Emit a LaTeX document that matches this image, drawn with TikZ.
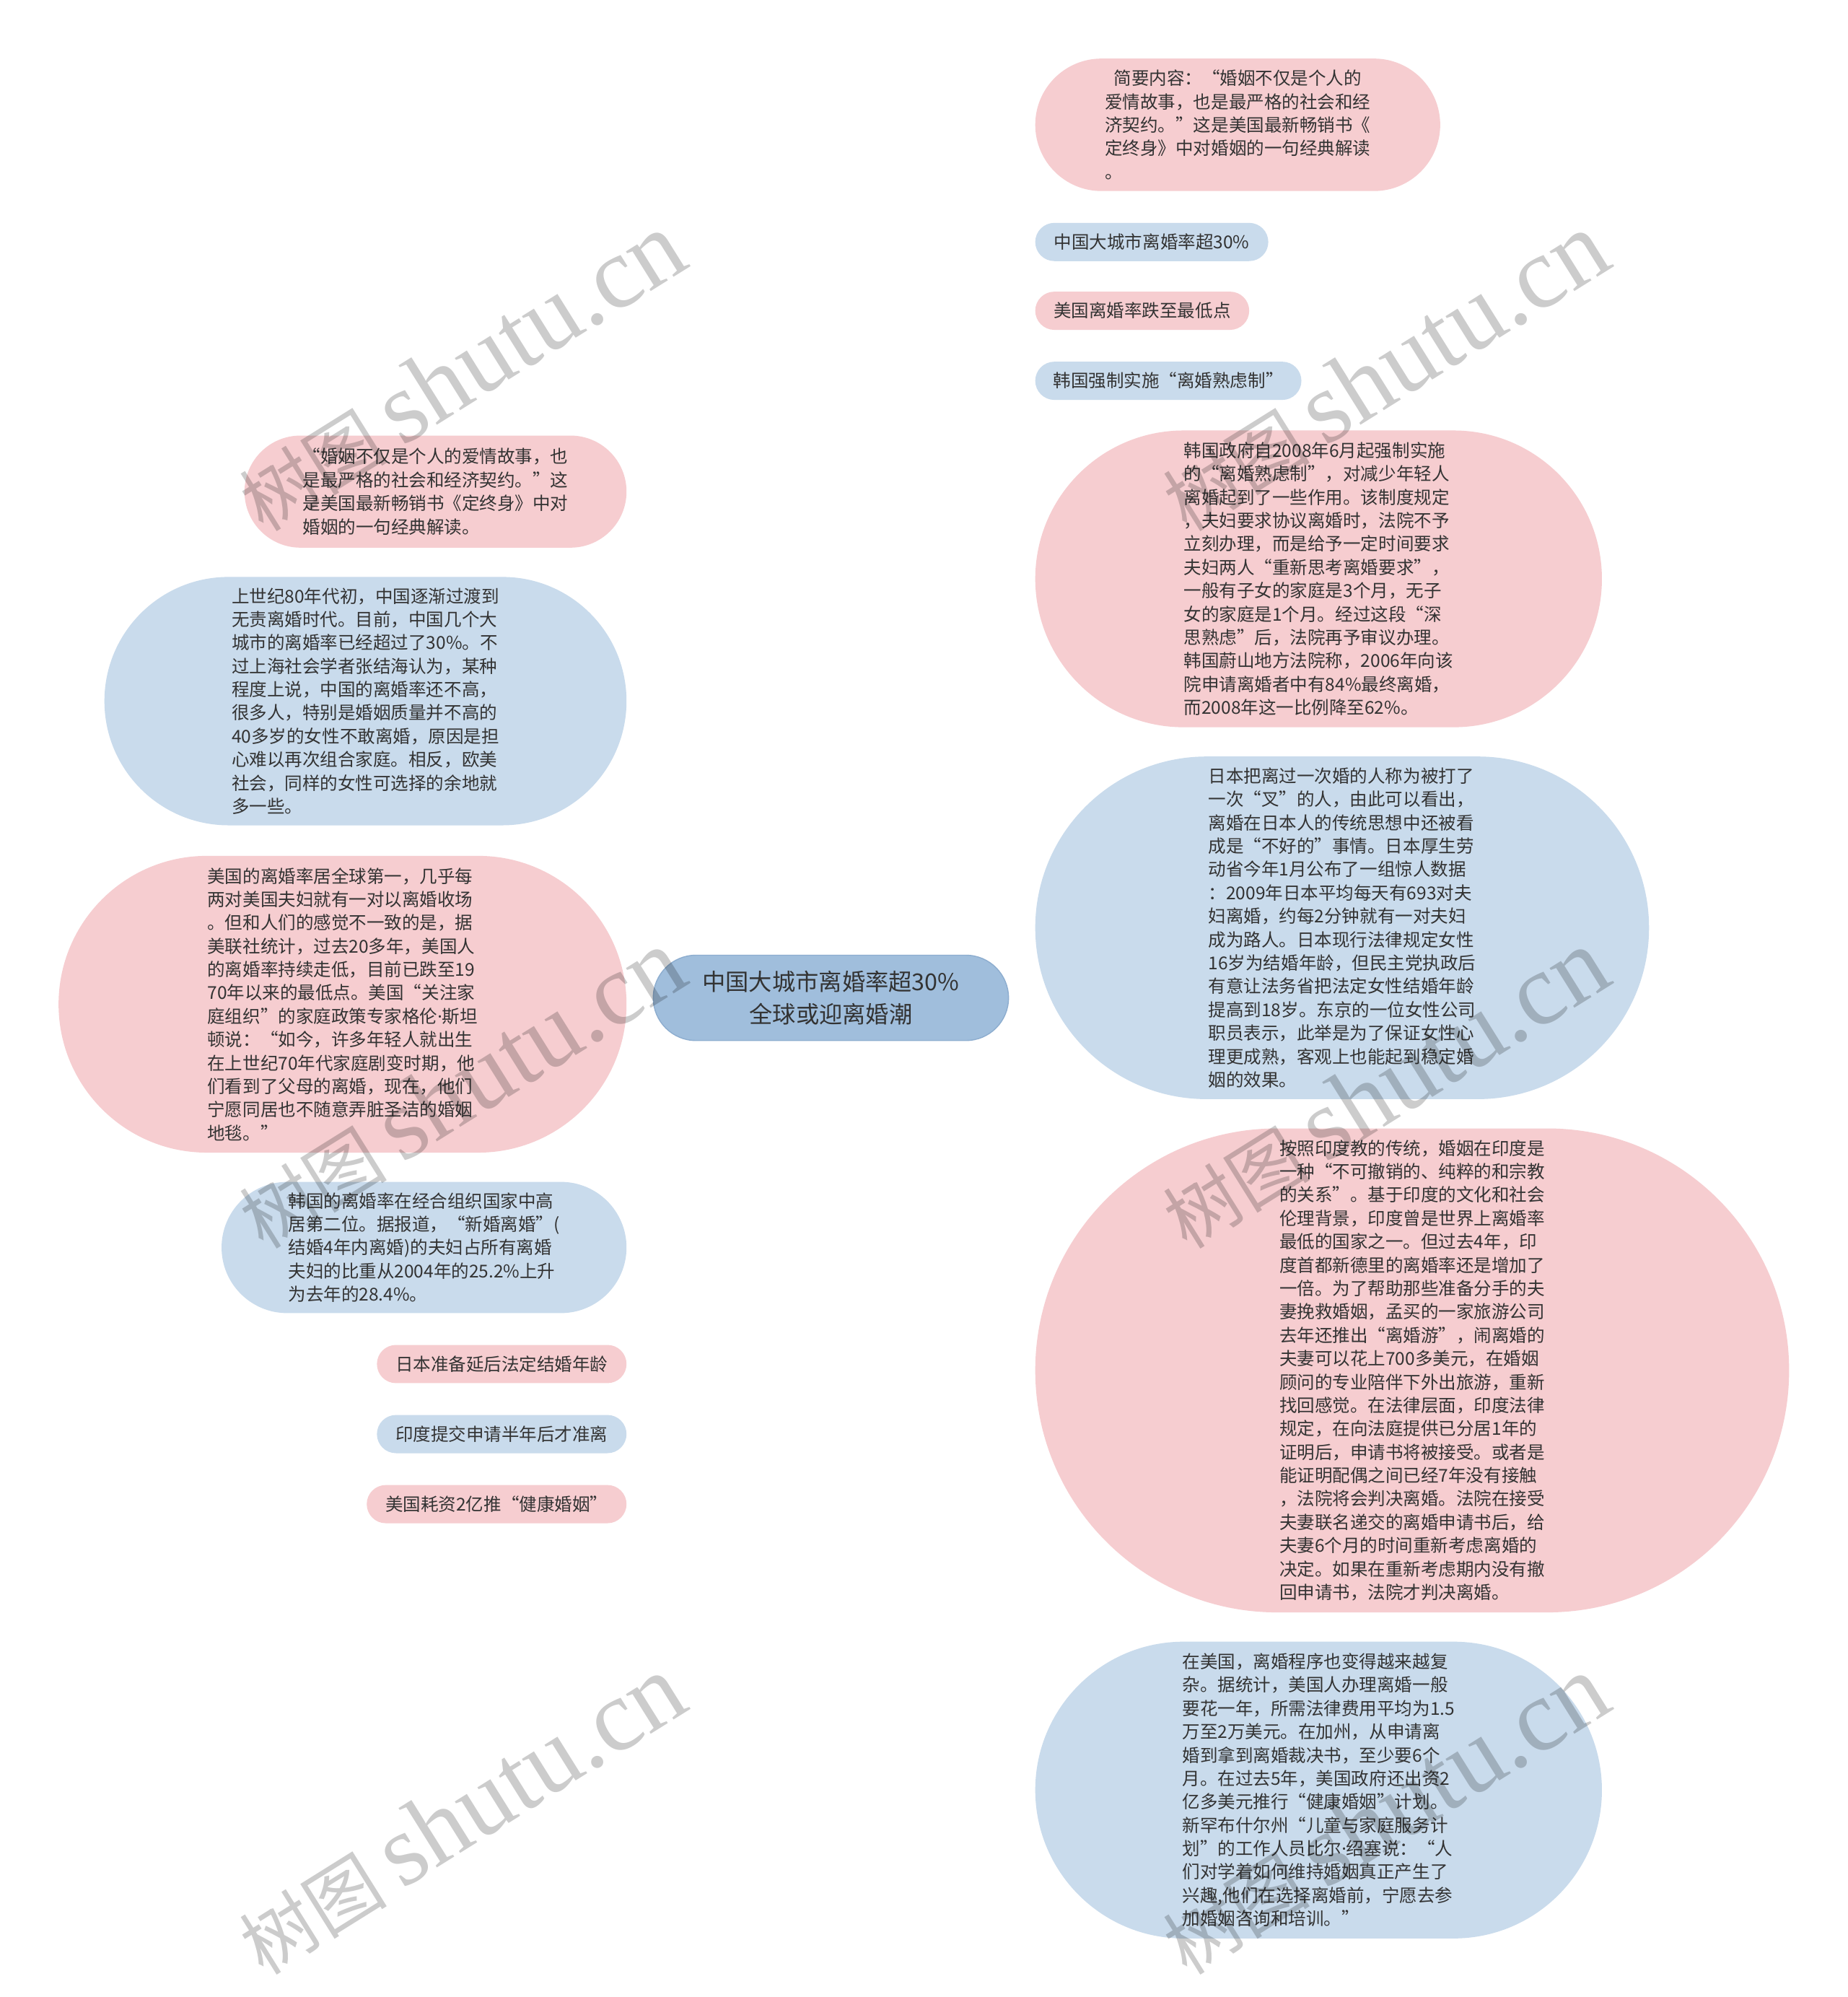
\documentclass[tikz,border=0pt]{standalone}
\usepackage{fontspec}
\setmainfont{Noto Sans CJK SC}
\newfontfamily\wmlatin{Liberation Serif}
\newfontfamily\dotfont{Noto Sans}
\newcommand{\mdot}{{\dotfont ·}}
\usetikzlibrary{calc,backgrounds}
\definecolor{pinkfill}{HTML}{F6CDD0}
\definecolor{bluefill}{HTML}{C9DBEC}
\definecolor{rootfill}{HTML}{A0BEDC}
\definecolor{rootedge}{HTML}{8DADCF}
\definecolor{pinkline}{HTML}{EFB8BE}
\definecolor{blueline}{HTML}{B5CDE4}
\definecolor{txt}{HTML}{333333}
\tikzset{
  box/.style={rectangle, inner sep=0pt, align=left, text=txt,
    font=\fontsize{13.9pt}{18.35pt}\selectfont},
  pinkbox/.style={box, fill=pinkfill},
  bluebox/.style={box, fill=bluefill},
  sz/.style 2 args={minimum width=#1pt, minimum height=#2pt, rounded corners={#2*0.5pt}},
  rootbox/.style={rectangle, inner sep=0pt, align=center, text=txt, fill=rootfill,
    draw=rootedge, line width=0.8pt, font=\fontsize{18.3pt}{25pt}\selectfont},
  pl/.style={draw=pinkline, line width=1.1pt},
  bl/.style={draw=blueline, line width=1.1pt},
  rc/.style={to path={.. controls ($(\tikztostart)!0.6667!(\tikztostart|-\tikztotarget)$)
      and ($(\tikztotarget)!0.6667!(\tikztostart|-\tikztotarget)$) .. (\tikztotarget)}},
  wm/.style={inner sep=0pt, text=black, text opacity=0.2, rotate=32}
}
\newcommand{\wmtext}{{\fontsize{58pt}{58pt}\selectfont 树图}\hspace{12pt}{\wmlatin\fontsize{80pt}{80pt}\selectfont shutu.cn}}
\begin{document}
\begin{tikzpicture}[x=1pt,y=-1pt]
\useasboundingbox (0,0) rectangle (1451,1568);
\fill[white] (0,0) rectangle (1451,1568);

% root
\node[rootbox, sz={279}{67}] (root) at (652.5,783.5) {中国大城市离婚率超30\%\\全球或迎离婚潮};

% right side
\node[pinkbox, sz={318}{104}] (r1) at (972,98) {\hspace{0.5em}简要内容：“婚姻不仅是个人的\\爱情故事，也是最严格的社会和经\\济契约。”这是美国最新畅销书《\\定终身》中对婚姻的一句经典解读\\。};
\node[bluebox, sz={183}{30}] (r2) at (904.5,190) {中国大城市离婚率超30\%};
\node[pinkbox, sz={168}{30}] (r3) at (897,244) {美国离婚率跌至最低点};
\node[bluebox, sz={209}{30}] (r4) at (917.5,299) {韩国强制实施“离婚熟虑制”};
\node[pinkbox, sz={445}{233}] (r5) at (1035.5,454.5) {韩国政府自2008年6月起强制实施\\的“离婚熟虑制”，对减少年轻人\\离婚起到了一些作用。该制度规定\\，夫妇要求协议离婚时，法院不予\\立刻办理，而是给予一定时间要求\\夫妇两人“重新思考离婚要求”，\\一般有子女的家庭是3个月，无子\\女的家庭是1个月。经过这段“深\\思熟虑”后，法院再予审议办理。\\韩国蔚山地方法院称，2006年向该\\院申请离婚者中有84\%最终离婚，\\而2008年这一比例降至62\%。};
\node[bluebox, sz={482}{269}] (r6) at (1054,728.5) {日本把离过一次婚的人称为被打了\\一次“叉”的人，由此可以看出，\\离婚在日本人的传统思想中还被看\\成是“不好的”事情。日本厚生劳\\动省今年1月公布了一组惊人数据\\：2009年日本平均每天有693对夫\\妇离婚，约每2分钟就有一对夫妇\\成为路人。日本现行法律规定女性\\16岁为结婚年龄，但民主党执政后\\有意让法务省把法定女性结婚年龄\\提高到18岁。东京的一位女性公司\\职员表示，此举是为了保证女性心\\理更成熟，客观上也能起到稳定婚\\姻的效果。};
\node[pinkbox, sz={592}{380}] (r7) at (1109,1076) {按照印度教的传统，婚姻在印度是\\一种“不可撤销的、纯粹的和宗教\\的关系”。基于印度的文化和社会\\伦理背景，印度曾是世界上离婚率\\最低的国家之一。但过去4年，印\\度首都新德里的离婚率还是增加了\\一倍。为了帮助那些准备分手的夫\\妻挽救婚姻，孟买的一家旅游公司\\去年还推出“离婚游”，闹离婚的\\夫妻可以花上700多美元，在婚姻\\顾问的专业陪伴下外出旅游，重新\\找回感觉。在法律层面，印度法律\\规定，在向法庭提供已分居1年的\\证明后，申请书将被接受。或者是\\能证明配偶之间已经7年没有接触\\，法院将会判决离婚。法院在接受\\夫妻联名递交的离婚申请书后，给\\夫妻6个月的时间重新考虑离婚的\\决定。如果在重新考虑期内没有撤\\回申请书，法院才判决离婚。};
\node[bluebox, sz={445}{233}] (r8) at (1035.5,1405.5) {在美国，离婚程序也变得越来越复\\杂。据统计，美国人办理离婚一般\\要花一年，所需法律费用平均为1.5\\万至2万美元。在加州，从申请离\\婚到拿到离婚裁决书，至少要6个\\月。在过去5年，美国政府还出资2\\亿多美元推行“健康婚姻”计划。\\新罕布什尔州“儿童与家庭服务计\\划”的工作人员比尔\mdot 绍塞说：“人\\们对学着如何维持婚姻真正产生了\\兴趣,他们在选择离婚前，宁愿去参\\加婚姻咨询和培训。”};

% left side
\node[pinkbox, sz={300}{88}] (l1) at (342,386) {“婚姻不仅是个人的爱情故事，也\\是最严格的社会和经济契约。”这\\是美国最新畅销书《定终身》中对\\婚姻的一句经典解读。};
\node[bluebox, sz={410}{195}] (l2) at (287,550.5) {上世纪80年代初，中国逐渐过渡到\\无责离婚时代。目前，中国几个大\\城市的离婚率已经超过了30\%。不\\过上海社会学者张结海认为，某种\\程度上说，中国的离婚率还不高，\\很多人，特别是婚姻质量并不高的\\40多岁的女性不敢离婚，原因是担\\心难以再次组合家庭。相反，欧美\\社会，同样的女性可选择的余地就\\多一些。};
\node[pinkbox, sz={446}{233}] (l3) at (269,788.5) {美国的离婚率居全球第一，几乎每\\两对美国夫妇就有一对以离婚收场\\。但和人们的感觉不一致的是，据\\美联社统计，过去20多年，美国人\\的离婚率持续走低，目前已跌至19\\70年以来的最低点。美国“关注家\\庭组织”的家庭政策专家格伦\mdot 斯坦\\顿说：“如今，许多年轻人就出生\\在上世纪70年代家庭剧变时期，他\\们看到了父母的离婚，现在，他们\\宁愿同居也不随意弄脏圣洁的婚姻\\地毯。”};
\node[bluebox, sz={318}{103}] (l4) at (333,979.5) {韩国的离婚率在经合组织国家中高\\居第二位。据报道，“新婚离婚”(\\结婚4年内离婚)的夫妇占所有离婚\\夫妇的比重从2004年的25.2\%上升\\为去年的28.4\%。};
\node[pinkbox, sz={196}{30}] (l5) at (394,1071) {日本准备延后法定结婚年龄};
\node[bluebox, sz={196}{30}] (l6) at (394,1126) {印度提交申请半年后才准离};
\node[pinkbox, sz={204}{30}] (l7) at (390,1181) {美国耗资2亿推“健康婚姻”};

% connectors
\begin{scope}[on background layer]
\draw[pl] (root.center) to[rc] (r1.west);
\draw[bl] (root.center) to[rc] (r2.west);
\draw[pl] (root.center) to[rc] (r3.west);
\draw[bl] (root.center) to[rc] (r4.west);
\draw[pl] (root.center) to[rc] (r5.west);
\draw[bl] (root.center) to[rc] (r6.west);
\draw[pl] (root.center) to[rc] (r7.west);
\draw[bl] (root.center) to[rc] (r8.west);
\draw[pl] (root.center) to[rc] (l1.east);
\draw[bl] (root.center) to[rc] (l2.east);
\draw[pl] (root.center) to[rc] (l3.east);
\draw[bl] (root.center) to[rc] (l4.east);
\draw[pl] (root.center) to[rc] (l5.east);
\draw[bl] (root.center) to[rc] (l6.east);
\draw[pl] (root.center) to[rc] (l7.east);
\end{scope}

% watermarks
\node[wm] (w1) at (362,292) {\wmtext};
\node[wm] (w2) at (1087,292) {\wmtext};
\node[wm] (w3) at (362,855) {\wmtext};
\node[wm] (w4) at (1087,855) {\wmtext};
\node[wm] (w5) at (362,1425) {\wmtext};
\node[wm] (w6) at (1087,1425) {\wmtext};
\end{tikzpicture}
\end{document}
